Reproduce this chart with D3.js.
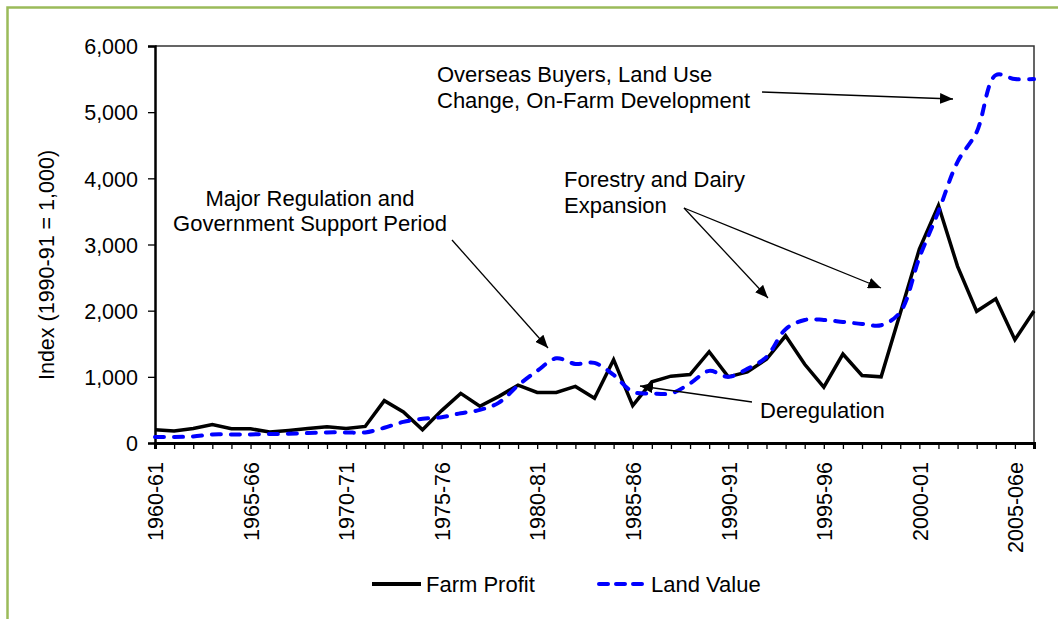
<!DOCTYPE html>
<html>
<head>
<meta charset="utf-8">
<script src="https://d3js.org/d3.v7.min.js"></script>
<style>
  body { margin: 0; background: #fff; }
  svg text { font-family: "Liberation Sans", Arial, sans-serif; fill: #000; }
</style>
</head>
<body>
<svg id="chart" width="1058" height="619"></svg>
<script>
// seasons, 1960-61 .. 2006-07 (last one sits at the right edge, no label)
var seasons = ["1960-61","1961-62","1962-63","1963-64","1964-65","1965-66","1966-67","1967-68",
  "1968-69","1969-70","1970-71","1971-72","1972-73","1973-74","1974-75","1975-76","1976-77",
  "1977-78","1978-79","1979-80","1980-81","1981-82","1982-83","1983-84","1984-85","1985-86",
  "1986-87","1987-88","1988-89","1989-90","1990-91","1991-92","1992-93","1993-94","1994-95",
  "1995-96","1996-97","1997-98","1998-99","1999-00","2000-01","2001-02","2002-03","2003-04",
  "2004-05","2005-06e","2006-07f"];
var tickLabels = ["1960-61","1965-66","1970-71","1975-76","1980-81","1985-86","1990-91","1995-96","2000-01","2005-06e"];

var farmProfit = [200,180,220,280,215,215,165,190,220,245,220,250,640,470,200,490,750,555,705,875,
  765,765,855,675,1260,565,925,1010,1035,1380,1000,1075,1265,1620,1190,845,1345,1020,1000,1960,
  2930,3590,2670,1990,2180,1560,1995];
var landValue = [90,90,100,130,130,130,135,140,150,160,160,160,230,320,365,390,450,500,610,870,
  1090,1280,1195,1210,1030,775,750,750,900,1090,1000,1120,1300,1720,1860,1860,1830,1800,1780,1980,
  2800,3500,4250,4700,5560,5500,5500];
var yTicks = [0,1000,2000,3000,4000,5000,6000];

var series = [
  {name: "Farm Profit", values: farmProfit, color: "#000", dash: null, curve: d3.curveLinear},
  {name: "Land Value", values: landValue, color: "#0000ff", dash: "9,10", curve: d3.curveCatmullRom.alpha(0.5)}
];

var svg = d3.select("#chart");
var pLeft = 155, pRight = 1034, pTop = 46, pBottom = 443;

var x = d3.scalePoint().domain(seasons).range([pLeft, pRight]);
var y = d3.scaleLinear().domain([0, 6000]).range([pBottom, pTop]);

// green frame round the chart
svg.append("rect").attr("x", 7.5).attr("y", 7.5).attr("width", 1100).attr("height", 700)
  .attr("fill", "none").attr("stroke", "#9bbb59").attr("stroke-width", 2.5);

// plot area border (top / right)
svg.append("path")
  .attr("d", "M" + pLeft + "," + pTop + "H" + pRight + "V" + pBottom)
  .attr("fill", "none").attr("stroke", "#333").attr("stroke-width", 1.5);

// y axis
var yAxis = svg.append("g").attr("transform", "translate(" + pLeft + ",0)")
  .call(d3.axisLeft(y).tickValues(yTicks).tickFormat(d3.format(",")).tickSize(7).tickPadding(10));
yAxis.select(".domain").attr("stroke", "#000").attr("stroke-width", 2.5);
yAxis.selectAll(".tick line").attr("stroke", "#000").attr("stroke-width", 1.3);
yAxis.selectAll("text").style("font-size", "21.5px").attr("dy", "0.36em");

// x axis: tick on every season, label every fifth
var xAxis = svg.append("g").attr("transform", "translate(0," + pBottom + ")")
  .call(d3.axisBottom(x).tickSize(6).tickFormat(function (d) { return tickLabels.indexOf(d) >= 0 ? d : ""; }));
xAxis.select(".domain").attr("stroke", "#000").attr("stroke-width", 3);
xAxis.selectAll(".tick line").attr("stroke", "#000").attr("stroke-width", 1.3);
xAxis.selectAll("text")
  .style("font-size", "21.5px")
  .attr("text-anchor", "end")
  .attr("transform", "rotate(-90)")
  .attr("x", -19).attr("y", 0).attr("dy", "0.36em");

// y title
svg.append("text")
  .attr("transform", "translate(54,265) rotate(-90)")
  .attr("text-anchor", "middle")
  .style("font-size", "21.5px")
  .text("Index (1990-91 = 1,000)");

// lines
series.forEach(function (s) {
  var line = d3.line()
    .x(function (d, i) { return x(seasons[i]); })
    .y(function (d) { return y(d); })
    .curve(s.curve);
  svg.append("path")
    .datum(s.values)
    .attr("d", line)
    .attr("fill", "none")
    .attr("stroke", s.color)
    .attr("stroke-width", s.dash ? 4 : 3.5)
    .attr("stroke-linecap", s.dash ? "round" : "butt")
    .attr("stroke-linejoin", "miter")
    .attr("stroke-dasharray", s.dash);
});

// arrowhead
svg.append("defs").append("marker")
  .attr("id", "arr").attr("viewBox", "0 0 12 10").attr("refX", 12).attr("refY", 5)
  .attr("markerUnits", "userSpaceOnUse").attr("markerWidth", 13).attr("markerHeight", 11)
  .attr("orient", "auto")
  .append("path").attr("d", "M0,0L12,5L0,10Z").attr("fill", "#000");

var arrows = [
  [[452, 240], [548, 348]],
  [[684, 208], [768, 298]],
  [[684, 208], [881, 288]],
  [[762, 92], [953, 99]],
  [[752, 402], [640, 386]]
];
arrows.forEach(function (a) {
  svg.append("line")
    .attr("x1", a[0][0]).attr("y1", a[0][1]).attr("x2", a[1][0]).attr("y2", a[1][1])
    .attr("stroke", "#000").attr("stroke-width", 1.3).attr("marker-end", "url(#arr)");
});

// annotation text
var notes = [
  {t: "Overseas Buyers, Land Use", x: 437, y: 82, a: "start"},
  {t: "Change, On-Farm Development", x: 437, y: 108, a: "start"},
  {t: "Forestry and Dairy", x: 564, y: 187, a: "start"},
  {t: "Expansion", x: 564, y: 213, a: "start"},
  {t: "Major Regulation and", x: 310, y: 206, a: "middle"},
  {t: "Government Support Period", x: 310, y: 231, a: "middle"},
  {t: "Deregulation", x: 760, y: 418, a: "start"}
];
svg.selectAll("text.note").data(notes).enter().append("text")
  .attr("class", "note")
  .attr("x", function (d) { return d.x; })
  .attr("y", function (d) { return d.y; })
  .attr("text-anchor", function (d) { return d.a; })
  .style("font-size", "22px")
  .text(function (d) { return d.t; });

// legend
var legend = svg.append("g");
var lx = [372, 597];
series.forEach(function (s, i) {
  legend.append("line")
    .attr("x1", lx[i]).attr("x2", lx[i] + 49).attr("y1", 584).attr("y2", 584)
    .attr("stroke", s.color).attr("stroke-width", 4)
    .attr("stroke-linecap", s.dash ? "round" : "butt")
    .attr("stroke-dasharray", s.dash ? "9,8" : null)
    .attr("transform", s.dash ? "translate(2,0)" : null);
  legend.append("text")
    .attr("x", lx[i] + 54).attr("y", 584).attr("dy", "0.36em")
    .style("font-size", "22px")
    .text(s.name);
});
</script>
</body>
</html>
